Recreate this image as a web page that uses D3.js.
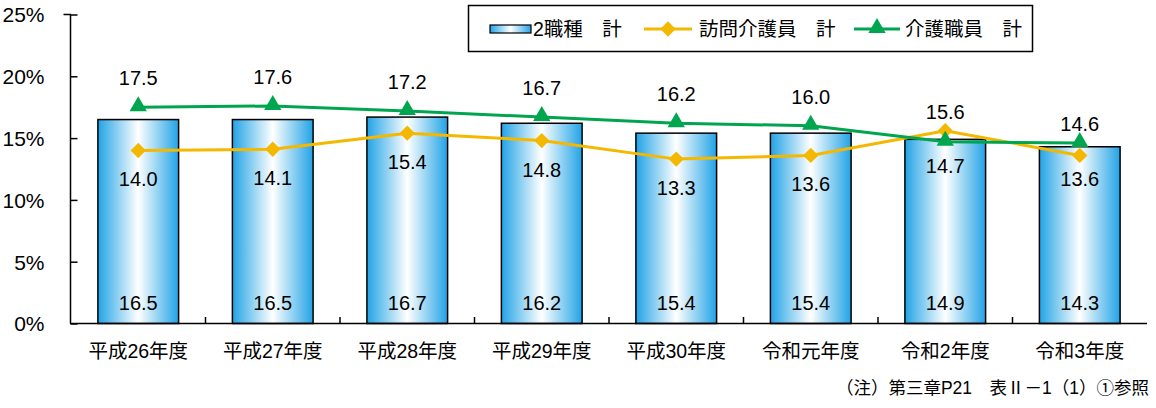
<!DOCTYPE html>
<html><head><meta charset="utf-8">
<script src="https://cdn.jsdelivr.net/npm/d3@7"></script>
<style>body{margin:0;background:#fff}svg{display:block}text{font-family:"Liberation Sans","Noto Sans CJK JP",sans-serif;fill:#000}</style>
</head><body>
<script>
const categories = ["平成26年度","平成27年度","平成28年度","平成29年度","平成30年度","令和元年度","令和2年度","令和3年度"];
const barValues = [16.5,16.5,16.7,16.2,15.4,15.4,14.9,14.3];
const homeCareValues = [14.0,14.1,15.4,14.8,13.3,13.6,15.6,13.6];
const careWorkerValues = [17.5,17.6,17.2,16.7,16.2,16.0,14.7,14.6];
const yTicks = [0,5,10,15,20,25];
const seriesNames = ["2職種　計","訪問介護員　計","介護職員　計"];
const note = "（注）第三章P21　表Ⅱ－1（1）①参照";

const W=1156,H=408;
const svg=d3.select("body").append("svg").attr("width",W).attr("height",H);
const defs=svg.append("defs");
const g=defs.append("linearGradient").attr("id","barGrad").attr("x1","0").attr("x2","1").attr("y1","0").attr("y2","0");
g.append("stop").attr("offset","0%").attr("stop-color","#22a3e6");
g.append("stop").attr("offset","50%").attr("stop-color","#ffffff");
g.append("stop").attr("offset","100%").attr("stop-color","#22a3e6");

const xb=d3.scaleBand().domain(categories).range([71,1147]);
const y=d3.scaleLinear().domain([0,25]).range([323.5,14.5]);
const orange="#F5B800", green="#00A54F";

// y axis
const ya=svg.append("g").attr("transform","translate(70.5,0)")
 .call(d3.axisLeft(y).tickValues(yTicks).tickSize(-7).tickPadding(26).tickFormat(d=>d+"%"));
ya.select(".domain").attr("stroke","#000").attr("stroke-width",1.5).attr("d","M-7,14.5H0V323.5");
ya.selectAll(".tick line").attr("stroke","#000").attr("stroke-width",1.5);
ya.selectAll(".tick text").style("font-size","21px").attr("dy","0.35em");

// bars
svg.selectAll("rect.bar").data(barValues).join("rect").attr("class","bar")
 .attr("x",(d,i)=>xb(categories[i])+xb.bandwidth()*0.2)
 .attr("width",xb.bandwidth()*0.6)
 .attr("y",d=>y(d)).attr("height",d=>y(0)-y(d))
 .attr("fill","url(#barGrad)").attr("stroke","#000").attr("stroke-width",1.5);

// x axis
const xa=svg.append("g").attr("transform","translate(0,323.5)")
 .call(d3.axisBottom(xb).tickSize(0).tickPadding(21));
xa.select(".domain").attr("stroke","#000").attr("stroke-width",1.5).attr("d","M70,0H1147");
xa.selectAll(".tick text").style("font-size","19.5px");
svg.append("g").selectAll("line").data(categories.slice(1)).join("line")
 .attr("x1",d=>xb(d)).attr("x2",d=>xb(d)).attr("y1",323.5).attr("y2",317).attr("stroke","#000").attr("stroke-width",1.5);

// bar labels
svg.selectAll("text.bl").data(barValues).join("text").attr("class","bl")
 .attr("x",(d,i)=>xb(categories[i])+xb.bandwidth()/2).attr("y",310)
 .attr("text-anchor","middle").style("font-size","20px").text(d=>d.toFixed(1));

const cx=i=>xb(categories[i])+xb.bandwidth()/2;
const line=d3.line().x((d,i)=>cx(i)).y(d=>y(d));
svg.append("path").datum(homeCareValues).attr("d",line).attr("fill","none").attr("stroke",orange).attr("stroke-width",3);
svg.append("path").datum(careWorkerValues).attr("d",line).attr("fill","none").attr("stroke",green).attr("stroke-width",3);
const diamond=d3.symbol().type(d3.symbolDiamond2).size(150);
const tri=d3.symbol().type(d3.symbolTriangle).size(130);
svg.selectAll("path.dm").data(homeCareValues).join("path").attr("class","dm")
 .attr("d",diamond).attr("transform",(d,i)=>`translate(${cx(i)},${y(d)})`).attr("fill",orange);
svg.selectAll("path.tr").data(careWorkerValues).join("path").attr("class","tr")
 .attr("d",tri).attr("transform",(d,i)=>`translate(${cx(i)},${y(d)-1})`).attr("fill",green);

// line labels: higher series above, lower series below; tighter when the two values are close
function lab(vals,other,cls){
 svg.selectAll("text."+cls).data(vals).join("text").attr("class",cls)
  .attr("x",(d,i)=>cx(i))
  .attr("y",(d,i)=>{
    const close=Math.abs(d-other[i])<=1.05;
    return d>=other[i] ? y(d)-(close?12:22) : y(d)+(close?31:36);
  })
  .attr("text-anchor","middle").style("font-size","20px").text(d=>d.toFixed(1));
}
lab(careWorkerValues,homeCareValues,"gl");
lab(homeCareValues,careWorkerValues,"ol");

// legend
const lg=svg.append("g");
lg.append("rect").attr("x",468.5).attr("y",5.5).attr("width",564).attr("height",46).attr("fill","#fff").attr("stroke","#000").attr("stroke-width",1.5);
const ly=29;
lg.append("rect").attr("x",490).attr("y",ly-4).attr("width",41).attr("height",8).attr("fill","url(#barGrad)").attr("stroke","#000").attr("stroke-width",1.2);
lg.append("text").attr("x",533).attr("y",ly).attr("dy","0.35em").style("font-size","19.5px").text(seriesNames[0]);
lg.append("line").attr("x1",644).attr("x2",692).attr("y1",ly).attr("y2",ly).attr("stroke",orange).attr("stroke-width",3);
lg.append("path").attr("d",diamond).attr("transform",`translate(668,${ly})`).attr("fill",orange);
lg.append("text").attr("x",699).attr("y",ly).attr("dy","0.35em").style("font-size","19.5px").text(seriesNames[1]);
lg.append("line").attr("x1",854).attr("x2",900).attr("y1",ly).attr("y2",ly).attr("stroke",green).attr("stroke-width",3);
lg.append("path").attr("d",tri).attr("transform",`translate(877,${ly-1})`).attr("fill",green);
lg.append("text").attr("x",905).attr("y",ly).attr("dy","0.35em").style("font-size","19.5px").text(seriesNames[2]);

svg.append("text").attr("x",1149).attr("y",394).attr("text-anchor","end").style("font-size","17.5px").text(note);
</script>
</body></html>
